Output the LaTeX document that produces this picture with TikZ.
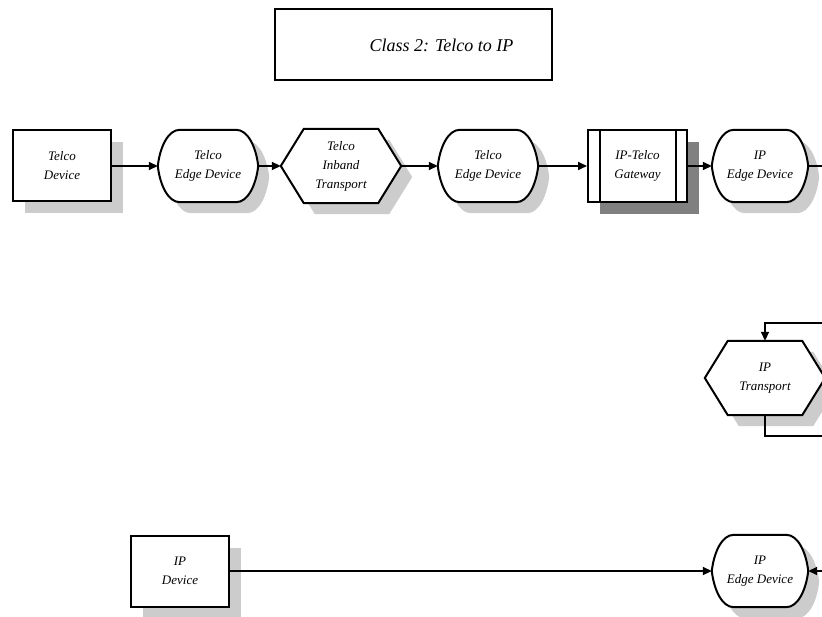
\documentclass[tikz,border=0pt]{standalone}
\usepackage{fontspec}
\setmainfont{Liberation Serif}
\usetikzlibrary{arrows.meta,calc,shadows,backgrounds}
\definecolor{shlight}{HTML}{CCCCCC}
\definecolor{shdark}{HTML}{808080}

\tikzset{
  lbl/.style={font=\fontsize{13}{19}\selectfont\itshape, align=center, inner sep=0pt},
  blockbox/.style={draw, line width=2pt, fill=white, minimum width=98pt,
    minimum height=71pt, lbl,
    drop shadow={shadow xshift=12pt, shadow yshift=-12pt, opacity=1, fill=shlight}},
  outline/.style={draw, line width=2pt, fill=white,
    drop shadow={shadow xshift=11pt, shadow yshift=-11pt, opacity=1, fill=shlight}},
  slot/.style={lbl, minimum width=#1, minimum height=72pt},
  hexslot/.style={lbl, minimum width=120pt, minimum height=74pt},
  link/.style={line width=1.8pt, -{Triangle[length=9pt,width=8pt]}},
  wire/.style={line width=1.8pt},
}

% edge device: flat top and bottom, rounded sides meeting at the side midpoints
\newcommand\edgeoutline[1]{%
  \path[outline] ($(#1.north west)+(22,0)$) -- ($(#1.north east)+(-22,0)$)
    .. controls ($(#1.north east)+(-10,0)$) and ($(#1.north east)+(-2,18)$) .. (#1.east)
    .. controls ($(#1.south east)+(-2,-18)$) and ($(#1.south east)+(-10,0)$) .. ($(#1.south east)+(-22,0)$)
    -- ($(#1.south west)+(22,0)$)
    .. controls ($(#1.south west)+(10,0)$) and ($(#1.south west)+(2,-18)$) .. (#1.west)
    .. controls ($(#1.north west)+(2,18)$) and ($(#1.north west)+(10,0)$) .. cycle;}

% transport: hexagon pointed left and right
\newcommand\hexoutline[1]{%
  \path[outline] ($(#1.north west)+(23,0)$) -- ($(#1.north east)+(-23,0)$) -- (#1.east)
    -- ($(#1.south east)+(-23,0)$) -- ($(#1.south west)+(23,0)$) -- (#1.west) -- cycle;}

\begin{document}
\begin{tikzpicture}[x=1pt,y=-1pt]
\useasboundingbox (0,0) rectangle (822,617);

% heading
\node[draw, line width=2pt, minimum width=277pt, minimum height=71pt, inner sep=0pt]
      (title) at (413.5,44.5) {};
\node[font=\fontsize{18}{20}\selectfont\itshape, inner sep=0pt] (titletext) at (441.5,45) {Class 2: Telco to IP};

% top row
\node[blockbox] (td) at (62,166) {Telco\\Device};
\node[slot=100pt] (te1) at (208,166) {Telco\\Edge Device};
\node[hexslot] (tit) at (341,166) {Telco\\Inband\\Transport};
\node[slot=100pt] (te2) at (488,166) {Telco\\Edge Device};
\node[blockbox, minimum width=99pt, minimum height=72pt,
      drop shadow={shadow xshift=12pt, shadow yshift=-12pt, opacity=1, fill=shdark}]
      (gw) at (637.5,166) {IP-Telco\\Gateway};
\draw[line width=2pt] ($(gw.north west)+(13,0)$) -- ($(gw.south west)+(13,0)$);
\draw[line width=2pt] ($(gw.north east)+(-12,0)$) -- ($(gw.south east)+(-12,0)$);
\node[slot=96pt] (ipe1) at (760,166) {IP\\Edge Device};

% middle
\node[hexslot] (ipt) at (765,378) {IP\\Transport};

% bottom row
\node[blockbox] (ipd) at (180,571) {IP\\Device};
\node[slot=96pt] (ipe2) at (760,571) {IP\\Edge Device};

\begin{scope}[on background layer]
  \edgeoutline{te1}
  \hexoutline{tit}
  \edgeoutline{te2}
  \edgeoutline{ipe1}
  \hexoutline{ipt}
  \edgeoutline{ipe2}
\end{scope}

% connectors
\coordinate (r1) at (822,166);
\coordinate (r2) at (822,323);
\coordinate (r3) at (822,436);
\coordinate (r4) at (822,571);

\draw[link] (td.east) -- (te1.west);
\draw[link] (te1.east) -- (tit.west);
\draw[link] (tit.east) -- (te2.west);
\draw[link] (te2.east) -- (gw.west);
\draw[link] (gw.east) -- (ipe1.west);
\draw[wire] (ipe1.east) -- (r1);
\draw[link] (r2) -| (ipt.north);
\draw[wire] (ipt.south) |- (r3);
\draw[link] (ipd.east) -- (ipe2.west);
\draw[link] (r4) -- (ipe2.east);
\end{tikzpicture}
\end{document}
